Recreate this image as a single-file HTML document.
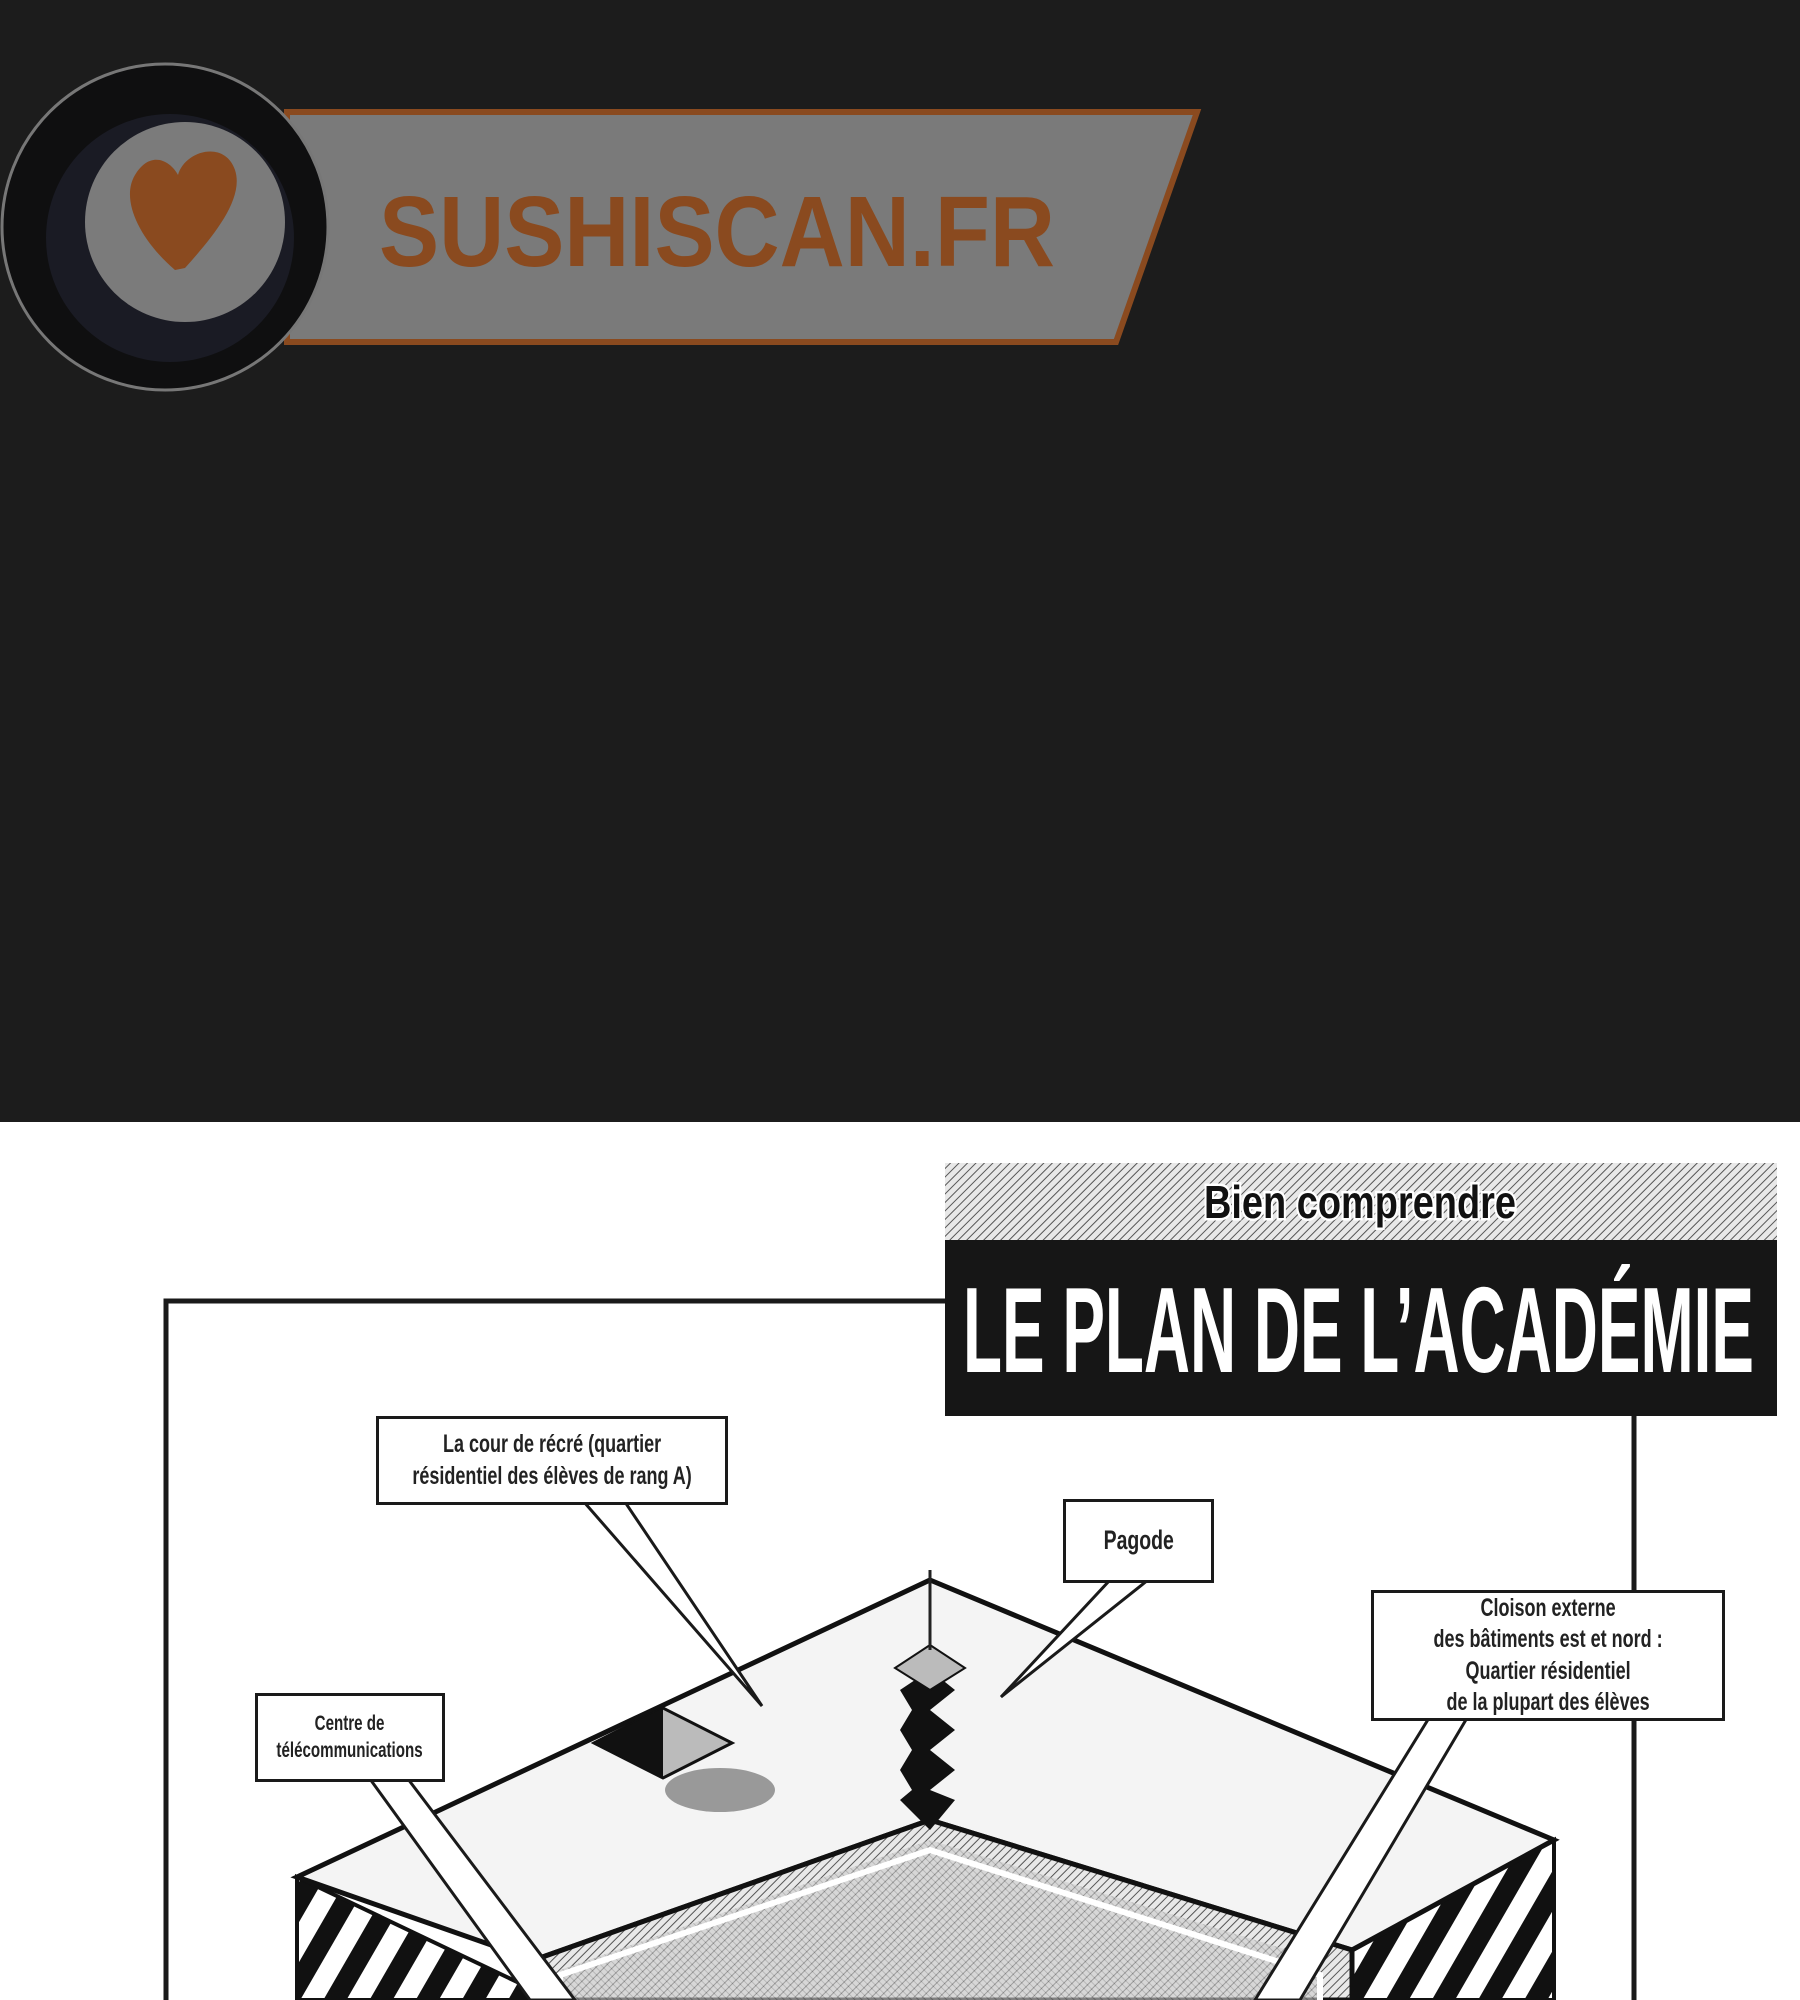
<!DOCTYPE html>
<html><head><meta charset="utf-8"><style>
html,body{margin:0;padding:0;}
body{width:1800px;height:2000px;position:relative;overflow:hidden;background:#fff;font-family:"Liberation Sans",sans-serif;}
.dark{position:absolute;left:0;top:0;width:1800px;height:1122px;background:#1c1c1c;}
.box{position:absolute;background:#fff;border:3px solid #1a1a1a;box-sizing:border-box;display:flex;align-items:center;justify-content:center;text-align:center;font-family:"Liberation Sans",sans-serif;font-weight:bold;color:#222;line-height:1.25;}
.box span{display:inline-block;white-space:nowrap;transform:scaleX(0.72);}
</style></head><body>
<div class="dark"></div>
<svg width="1800" height="2000" style="position:absolute;left:0;top:0">
<defs>
<pattern id="hat" width="6" height="6" patternUnits="userSpaceOnUse" patternTransform="rotate(45)"><rect width="6" height="6" fill="#e8e8e8"/><line x1="0" y1="0" x2="0" y2="6" stroke="#555" stroke-width="2"/></pattern>
<pattern id="hat2" width="5" height="5" patternUnits="userSpaceOnUse" patternTransform="rotate(-45)"><rect width="5" height="5" fill="#ccc"/><line x1="0" y1="0" x2="0" y2="5" stroke="#888" stroke-width="1.5"/></pattern>
<pattern id="str" width="40" height="40" patternUnits="userSpaceOnUse" patternTransform="rotate(30)"><rect width="40" height="40" fill="#fff"/><rect width="20" height="40" fill="#111"/></pattern>
</defs>
<polygon points="287,112 1197,112 1116,342 287,342" fill="#7a7a7a" stroke="#8a4a1f" stroke-width="6"/>
<circle cx="165" cy="227" r="163" fill="#0f0f10" stroke="#777" stroke-width="3"/>
<circle cx="170" cy="238" r="124" fill="#1a1b24"/>
<circle cx="185" cy="222" r="100" fill="#7b7b7b"/>
<path d="M175 270 C140 240 120 200 135 175 C150 150 170 160 178 175 C185 150 225 140 235 170 C245 200 210 240 185 268 Z" fill="#8a4a1f"/>
<text x="379" y="266" font-family="Liberation Sans" font-weight="bold" font-size="100" fill="#8a4a1f" textLength="676" lengthAdjust="spacingAndGlyphs">SUSHISCAN.FR</text>
<polyline points="166,2000 166,1301 945,1301" fill="none" stroke="#1a1a1a" stroke-width="5"/>
<line x1="1634" y1="1416" x2="1634" y2="2000" stroke="#1a1a1a" stroke-width="5"/>
<polygon points="297,1877 534,1990 534,2000 297,2000" fill="url(#str)" stroke="#111" stroke-width="4"/>
<polygon points="1554,1840 1352,1950 1352,2000 1554,2000" fill="url(#str)" stroke="#111" stroke-width="4"/>
<polygon points="930,1580 1554,1840 1352,1950 930,1820 534,1960 297,1877" fill="#f4f4f4" stroke="#111" stroke-width="5"/>
<polygon points="930,1820 1352,1950 1352,2000 534,2000 534,1960" fill="url(#hat)" stroke="#111" stroke-width="5"/>
<polygon points="930,1840 1320,1960 1320,2000 560,2000 560,1970" fill="url(#hat2)" opacity="0.6"/>
<polyline points="560,2000 560,1975 930,1850 1320,1975 1320,2000" fill="none" stroke="#fff" stroke-width="6"/>
<polygon points="930,1670 955,1690 930,1710 955,1730 930,1750 955,1770 930,1790 955,1800 930,1830 900,1800 912,1790 900,1770 912,1750 900,1730 912,1710 900,1690" fill="#111"/>
<polygon points="895,1668 930,1645 965,1668 930,1690" fill="#bbb" stroke="#111" stroke-width="2"/>
<line x1="930" y1="1570" x2="930" y2="1650" stroke="#222" stroke-width="3"/>
<polygon points="594,1743 663,1708 732,1743 663,1778" fill="#bbb" stroke="#111" stroke-width="3"/>
<polygon points="594,1743 663,1708 663,1778" fill="#111"/>
<ellipse cx="720" cy="1790" rx="55" ry="22" fill="#999"/>
<polygon points="584,1502 625,1502 762,1706" fill="#fff" stroke="#1a1a1a" stroke-width="3"/>
<polygon points="1110,1580 1148,1580 1001,1697" fill="#fff" stroke="#1a1a1a" stroke-width="3"/>
<polygon points="1429,1718 1467,1718 1300,2000 1255,2000" fill="#fff" stroke="#1a1a1a" stroke-width="3"/>
<polygon points="370,1779 408,1779 575,2000 530,2000" fill="#fff" stroke="#1a1a1a" stroke-width="3"/>
<rect x="945" y="1163" width="832" height="77" fill="url(#hat)"/>
<rect x="945" y="1240" width="832" height="176" fill="#161616"/>
<text x="1360" y="1218" text-anchor="middle" font-family="Liberation Sans" font-weight="bold" font-size="46" fill="#111" stroke="#fff" stroke-width="5" paint-order="stroke" textLength="312" lengthAdjust="spacingAndGlyphs">Bien comprendre</text>
<text x="963" y="1372" font-family="Liberation Sans" font-weight="bold" font-size="122" fill="#fff" textLength="791" lengthAdjust="spacingAndGlyphs">LE PLAN DE L’ACADÉMIE</text>
</svg>
<div class="box" style="left:376px;top:1416px;width:352px;height:89px;font-size:25px;"><span>La cour de récré (quartier<br>résidentiel des élèves de rang A)</span></div>
<div class="box" style="left:1063px;top:1499px;width:151px;height:84px;font-size:27px;"><span>Pagode</span></div>
<div class="box" style="left:1371px;top:1590px;width:354px;height:131px;font-size:25px;"><span>Cloison externe<br>des bâtiments est et nord :<br>Quartier résidentiel<br>de la plupart des élèves</span></div>
<div class="box" style="left:255px;top:1693px;width:190px;height:89px;font-size:21px;"><span>Centre de<br>télécommunications</span></div>
</body></html>
